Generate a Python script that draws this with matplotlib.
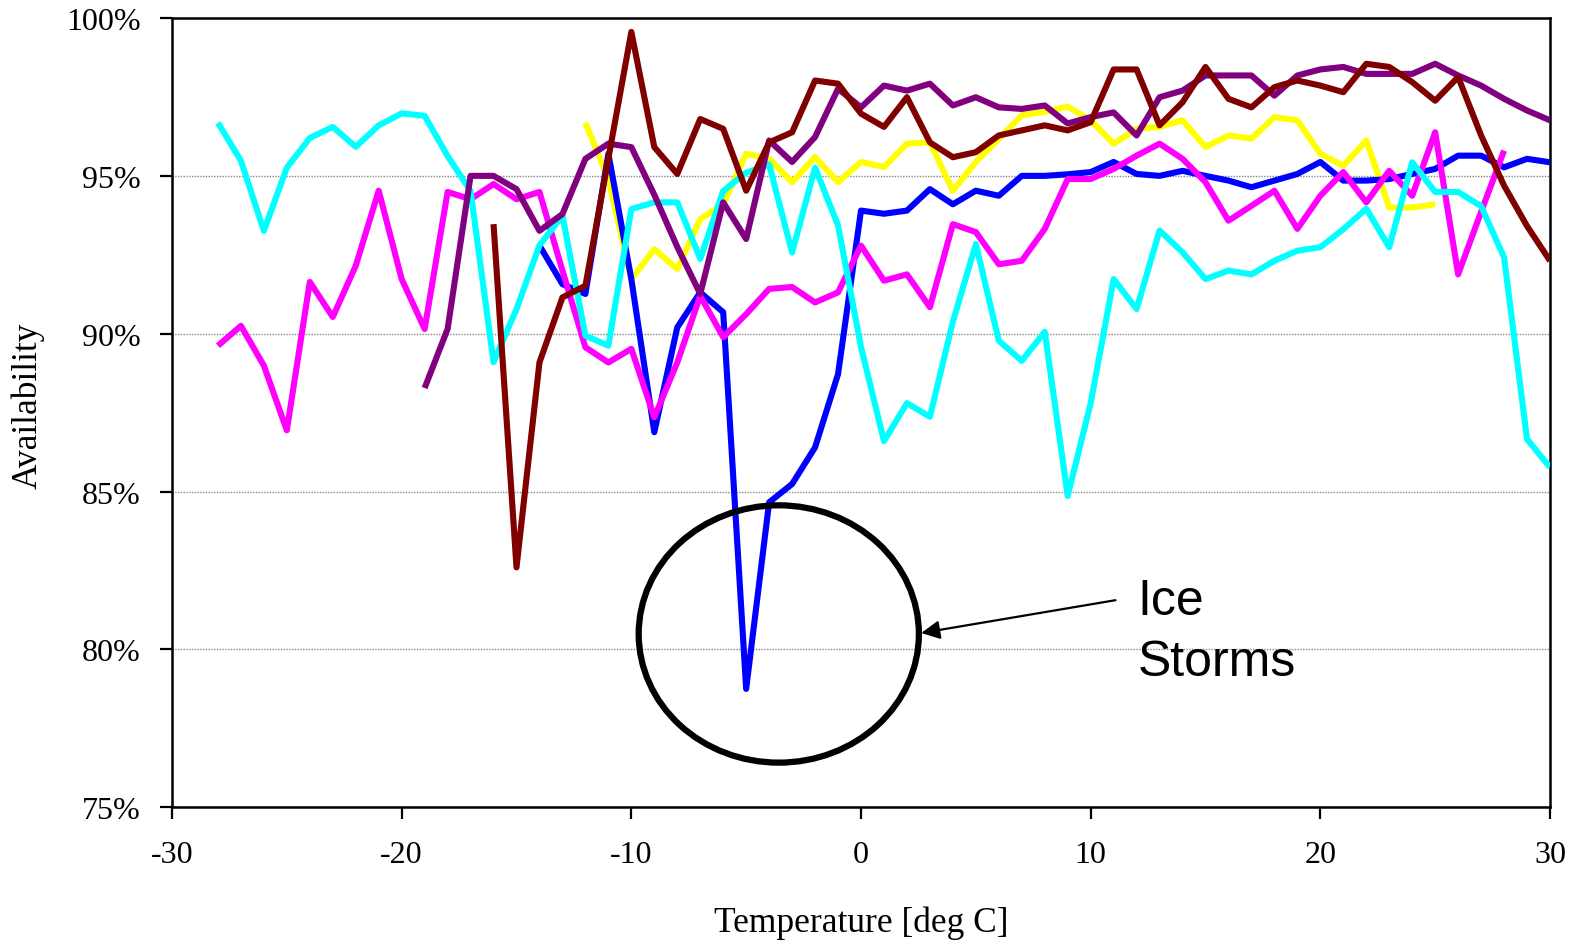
import numpy as np
import matplotlib
matplotlib.use("Agg")
import matplotlib.pyplot as plt
from matplotlib.patches import Ellipse

nan = np.nan

temps = [-28, -27, -26, -25, -24, -23, -22, -21, -20, -19,
         -18, -17, -16, -15, -14, -13, -12, -11, -10, -9,
         -8, -7, -6, -5, -4, -3, -2, -1, 0, 1,
         2, 3, 4, 5, 6, 7, 8, 9, 10, 11,
         12, 13, 14, 15, 16, 17, 18, 19, 20, 21,
         22, 23, 24, 25, 26, 27, 28, 29, 30]

yellow_vals = [nan, nan, nan, nan, nan, nan, nan, nan, nan, nan,
               nan, nan, nan, nan, nan, nan, 96.68, 94.9, 91.73, 92.68,
               92.05, 93.63, 94.1, 95.7, 95.54, 94.8, 95.6, 94.8, 95.44, 95.28,
               96.02, 96.06, 94.53, 95.44, 96.17, 96.92, 97.03, 97.19, 96.76, 96.02,
               96.49, 96.55, 96.76, 95.91, 96.28, 96.18, 96.86, 96.76, 95.7, 95.32,
               96.12, 94.0, 94.0, 94.1, nan, nan, nan, nan, nan]

blue_vals = [nan, nan, nan, nan, nan, nan, nan, nan, nan, nan,
             nan, nan, nan, nan, 92.79, 91.57, 91.26, 95.7, 91.73, 86.88,
             90.2, 91.31, 90.68, 78.75, 84.66, 85.24, 86.4, 88.72, 93.9, 93.8,
             93.9, 94.58, 94.1, 94.53, 94.37, 95.0, 95.0, 95.05, 95.12, 95.44,
             95.06, 95.0, 95.16, 95.0, 94.85, 94.64, 94.85, 95.06, 95.44, 94.85,
             94.85, 94.9, 95.06, 95.22, 95.64, 95.64, 95.27, 95.54, 95.43]

magenta_vals = [89.62, 90.25, 88.99, 86.94, 91.64, 90.53, 92.15, 94.53, 91.73, 90.15,
                94.49, 94.26, 94.74, 94.26, 94.49, 92.0, 89.57, 89.09, 89.52, 87.35,
                89.09, 91.2, 89.89, 90.62, 91.42, 91.48, 90.99, 91.31, 92.79, 91.68,
                91.88, 90.84, 93.47, 93.22, 92.2, 92.31, 93.32, 94.9, 94.9, 95.22,
                95.64, 96.02, 95.54, 94.8, 93.58, 94.05, 94.53, 93.32, 94.37, 95.12,
                94.16, 95.16, 94.37, 96.38, 91.88, 93.86, 95.8, nan, nan]

cyan_vals = [96.68, 95.48, 93.26, 95.26, 96.2, 96.55, 95.92, 96.6, 96.98, 96.9,
             95.63, 94.52, 89.1, 90.78, 92.8, 93.74, 89.94, 89.62, 93.95, 94.16,
             94.16, 92.37, 94.52, 95.1, 95.36, 92.57, 95.26, 93.43, 89.58, 86.6,
             87.8, 87.37, 90.38, 92.84, 89.78, 89.14, 90.06, 84.86, 87.8, 91.73,
             90.78, 93.27, 92.58, 91.73, 92.0, 91.88, 92.31, 92.63, 92.74, 93.31,
             93.96, 92.74, 95.43, 94.49, 94.49, 94.04, 92.42, 86.66, 85.77]

purple_vals = [nan, nan, nan, nan, nan, nan, nan, nan, nan, 88.28,
               90.15, 95.0, 95.0, 94.58, 93.26, 93.79, 95.54, 96.02, 95.91, 94.4,
               92.75, 91.26, 94.16, 93.0, 96.12, 95.44, 96.23, 97.76, 97.17, 97.86,
               97.7, 97.92, 97.23, 97.49, 97.17, 97.12, 97.23, 96.66, 96.86, 97.01,
               96.28, 97.49, 97.7, 98.18, 98.18, 98.18, 97.54, 98.18, 98.37, 98.45,
               98.23, 98.23, 98.23, 98.55, 98.18, 97.86, 97.44, 97.07, 96.76]

maroon_vals = [nan, nan, nan, nan, nan, nan, nan, nan, nan, nan,
               nan, nan, 93.47, 82.6, 89.09, 91.15, 91.52, 95.55, 99.56, 95.91,
               95.06, 96.8, 96.49, 94.53, 96.06, 96.38, 98.02, 97.92, 96.97, 96.55,
               97.49, 96.06, 95.59, 95.75, 96.28, 96.44, 96.6, 96.44, 96.7, 98.37,
               98.37, 96.6, 97.33, 98.45, 97.44, 97.17, 97.81, 98.02, 97.86, 97.65,
               98.55, 98.45, 97.97, 97.38, 98.13, 96.28, 94.69, 93.41, 92.31]

series = [
    (yellow_vals, "#FFFF00"),
    (blue_vals, "#0000FF"),
    (magenta_vals, "#FF00FF"),
    (cyan_vals, "#00FFFF"),
    (purple_vals, "#800080"),
    (maroon_vals, "#800000"),
]

x_ticks = [-30, -20, -10, 0, 10, 20, 30]
y_ticks = [75, 80, 85, 90, 95, 100]
y_tick_labels = ["75%", "80%", "85%", "90%", "95%", "100%"]

serif = ["Liberation Serif", "DejaVu Serif"]
sans = ["Liberation Sans", "DejaVu Sans"]

fig = plt.figure(figsize=(15.76, 9.45), dpi=100)
ax = fig.add_axes([172 / 1576, 1 - 808.3 / 945, (1550 - 172) / 1576, (808.3 - 19) / 945])

for vals, col in series:
    ax.plot(temps, vals, color=col, lw=4.4, solid_joinstyle="round",
            solid_capstyle="butt", zorder=3)

ax.set_xlim(-30, 30)
ax.set_ylim(75, 100)
ax.set_xticks(x_ticks)
ax.set_xticklabels([str(t) for t in x_ticks], family=serif, fontsize=23)
ax.set_yticks(y_ticks)
ax.set_yticklabels(y_tick_labels, family=serif, fontsize=23)
ax.tick_params(axis="both", direction="out", length=8.5, width=1.6)
ax.tick_params(axis="x", pad=15)
ax.tick_params(axis="y", pad=14)
ax.yaxis.grid(True, linestyle=(0, (1, 1)), color="#888888", lw=1.0, zorder=1)
for sp in ax.spines.values():
    sp.set_linewidth(1.8)
    sp.set_color("black")

ax.set_xlabel("Temperature [deg C]", family=serif, fontsize=25.5)
ax.xaxis.set_label_coords(0.5, -0.146)
ax.xaxis.label.set_va("center")
ax.set_ylabel("Availability", family=serif, fontsize=25.5)
ax.yaxis.set_label_coords(-0.1045, 0.51)
ax.yaxis.label.set_va("center")

ell = Ellipse((-3.58, 80.49), width=12.2, height=8.15, fill=False,
              edgecolor="black", lw=4.5, zorder=4)
ax.add_patch(ell)

ax.annotate("", xy=(2.62, 80.52), xytext=(11.08, 81.56),
            arrowprops=dict(arrowstyle="-|>", color="black", lw=1.6,
                            mutation_scale=28, shrinkA=0, shrinkB=0),
            zorder=5)
ax.text(12.04, 81.12, "Ice", family=sans, fontsize=36, ha="left", va="baseline", zorder=5)
ax.text(12.04, 79.19, "Storms", family=sans, fontsize=36, ha="left", va="baseline", zorder=5)

fig.savefig("out.png", dpi=100)
